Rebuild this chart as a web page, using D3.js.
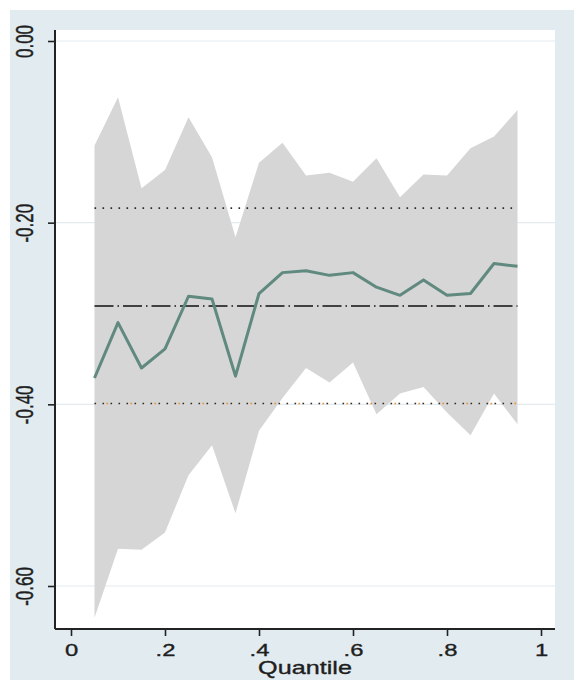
<!DOCTYPE html>
<html>
<head>
<meta charset="utf-8">
<script src="https://cdn.jsdelivr.net/npm/d3@7"></script>
<style>
  html, body { margin: 0; padding: 0; background: #fff; }
  svg { display: block; }
</style>
</head>
<body>
<script>
// quantile regression estimates
const quantiles = [0.05, 0.10, 0.15, 0.20, 0.25, 0.30, 0.35, 0.40, 0.45, 0.50,
                   0.55, 0.60, 0.65, 0.70, 0.75, 0.80, 0.85, 0.90, 0.95];
const coef  = [-0.371, -0.310, -0.360, -0.339, -0.281, -0.284, -0.369, -0.278, -0.255, -0.253,
               -0.258, -0.255, -0.271, -0.280, -0.263, -0.280, -0.278, -0.245, -0.248];
const upper = [-0.115, -0.062, -0.162, -0.142, -0.084, -0.128, -0.216, -0.134, -0.112, -0.148,
               -0.145, -0.155, -0.129, -0.172, -0.147, -0.148, -0.118, -0.105, -0.076];
const lower = [-0.635, -0.559, -0.560, -0.541, -0.478, -0.445, -0.520, -0.429, -0.393, -0.360,
               -0.376, -0.354, -0.411, -0.388, -0.381, -0.409, -0.434, -0.388, -0.422];
// OLS estimate and its confidence bounds
const olsCoef = [-0.2917];
const olsBounds = [-0.184, -0.399];

const xTicks = [0, 0.2, 0.4, 0.6, 0.8, 1];
const yTicks = [0, -0.2, -0.4, -0.6];

var width = 574, height = 680;
var plot = {left: 55, right: 555, top: 30, bottom: 629};
var font = "'Liberation Sans', Arial, sans-serif";
var stretch = 1.4; // the reference glyphs are drawn wide

var svg = d3.select("body").append("svg")
    .attr("width", width)
    .attr("height", height);

// outer (graph region) background
svg.append("rect")
    .attr("x", 10).attr("y", 10)
    .attr("width", width - 10).attr("height", height - 10)
    .attr("fill", "#e2ebef");

// plot region
svg.append("rect")
    .attr("x", plot.left).attr("y", plot.top)
    .attr("width", plot.right - plot.left).attr("height", plot.bottom - plot.top)
    .attr("fill", "#ffffff");

var x = d3.scaleLinear().domain([0, 1]).range([71, 541]);
var y = d3.scaleLinear().domain([0, -0.6]).range([41, 586]);

// horizontal grid lines
svg.append("g").selectAll("line")
    .data(yTicks)
    .join("line")
      .attr("x1", plot.left).attr("x2", plot.right)
      .attr("y1", d => y(d)).attr("y2", d => y(d))
      .attr("stroke", "#e3ebef")
      .attr("stroke-width", 1.2);

var rows = quantiles.map((q, i) => ({q: q, c: coef[i], lo: lower[i], hi: upper[i]}));

// confidence band
svg.append("path")
    .datum(rows)
    .attr("fill", "#d6d6d6")
    .attr("d", d3.area()
        .x(d => x(d.q))
        .y0(d => y(d.lo))
        .y1(d => y(d.hi)));

var qExtent = d3.extent(quantiles);

// OLS bounds (dotted)
svg.append("g").selectAll("line")
    .data(olsBounds)
    .join("line")
      .attr("x1", x(qExtent[0])).attr("x2", x(qExtent[1]))
      .attr("y1", d => y(d)).attr("y2", d => y(d))
      .attr("stroke", "#2b2b2b")
      .attr("stroke-width", 1.6)
      .attr("stroke-dasharray", "1.6,6.4");

svg.append("line")
    .attr("x1", x(qExtent[0])).attr("x2", x(qExtent[1]))
    .attr("y1", y(olsBounds[1])).attr("y2", y(olsBounds[1]))
    .attr("stroke", "#f08a1c")
    .attr("stroke-width", 1.6)
    .attr("stroke-dasharray", "1.6,22.4")
    .attr("stroke-dashoffset", -12);

// OLS estimate (long dash - dot)
svg.append("g").selectAll("line")
    .data(olsCoef)
    .join("line")
      .attr("x1", x(qExtent[0])).attr("x2", x(qExtent[1]))
      .attr("y1", d => y(d)).attr("y2", d => y(d))
      .attr("stroke", "#111")
      .attr("stroke-width", 1.6)
      .attr("stroke-dasharray", "19,4,1.5,4");

// quantile coefficients
svg.append("path")
    .datum(rows)
    .attr("fill", "none")
    .attr("stroke", "#60897f")
    .attr("stroke-width", 3)
    .attr("stroke-linejoin", "round")
    .attr("d", d3.line()
        .x(d => x(d.q))
        .y(d => y(d.c)));

// axes
var xAxis = svg.append("g")
    .attr("transform", "translate(0," + plot.bottom + ")")
    .call(d3.axisBottom(x)
        .tickValues(xTicks)
        .tickSize(7)
        .tickFormat(d => d === 0 ? "0" : d === 1 ? "1" : d3.format(".1f")(d).replace("0.", ".")));

var yAxis = svg.append("g")
    .attr("transform", "translate(" + plot.left + ",0)")
    .call(d3.axisLeft(y)
        .tickValues(yTicks)
        .tickSize(7)
        .tickFormat(d => d.toFixed(2)));

[xAxis, yAxis].forEach(g => {
  g.select(".domain").remove();
  g.selectAll(".tick line").attr("stroke", "#222").attr("stroke-width", 1.6);
  g.selectAll(".tick text")
    .attr("fill", "#1e1e1e")
    .attr("stroke", "#1e1e1e")
    .attr("stroke-width", 0.35)
    .attr("font-family", font)
    .attr("font-size", "17px");
});

xAxis.selectAll(".tick text")
    .attr("y", 27)
    .attr("dy", 0)
    .attr("transform", "scale(" + stretch + ",1)");

yAxis.selectAll(".tick text")
    .attr("x", 0)
    .attr("dy", 0)
    .attr("text-anchor", "middle")
    .attr("transform", "translate(-22,0) scale(" + stretch + ",1) rotate(-90)");

// axis lines
svg.append("line")
    .attr("x1", plot.left).attr("x2", plot.left)
    .attr("y1", plot.top).attr("y2", plot.bottom)
    .attr("stroke", "#222").attr("stroke-width", 2);

svg.append("line")
    .attr("x1", plot.left).attr("x2", plot.right)
    .attr("y1", plot.bottom).attr("y2", plot.bottom)
    .attr("stroke", "#222").attr("stroke-width", 2);

// axis title
svg.append("text")
    .attr("transform", "translate(" + ((plot.left + plot.right) / 2) + ",674) scale(" + stretch + ",1)")
    .attr("text-anchor", "middle")
    .attr("font-family", font)
    .attr("font-size", "18px")
    .attr("fill", "#1e1e1e")
    .attr("stroke", "#1e1e1e")
    .attr("stroke-width", 0.35)
    .text("Quantile");
</script>
</body>
</html>
